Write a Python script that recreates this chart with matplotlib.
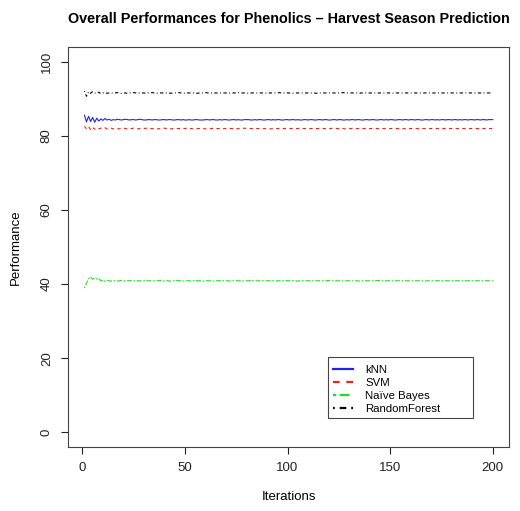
import matplotlib
matplotlib.use('Agg')
import matplotlib.pyplot as plt
from matplotlib.patches import Rectangle

plt.rcParams['font.family'] = ['Liberation Sans', 'DejaVu Sans']

# performance per iteration (1..200) for each classifier
knn = [85.6, 83.8, 85.3, 83.9, 85.0, 83.7, 84.8, 84.0, 84.6, 84.2, 84.7, 84.3, 84.5, 84.2, 84.4, 84.3, 84.5, 84.4, 84.3, 84.4,
       84.5, 84.4, 84.3, 84.4, 84.4, 84.3, 84.4, 84.5, 84.4, 84.3, 84.3, 84.4, 84.4, 84.3, 84.4, 84.4, 84.3, 84.3, 84.4, 84.4,
       84.3, 84.4, 84.4, 84.3, 84.3, 84.4, 84.4, 84.3, 84.4, 84.3, 84.3, 84.4, 84.3, 84.3, 84.4, 84.4, 84.3, 84.3, 84.3, 84.4,
       84.4, 84.3, 84.4, 84.4, 84.3, 84.3, 84.4, 84.3, 84.4, 84.4, 84.3, 84.3, 84.4, 84.4, 84.3, 84.4, 84.3, 84.3, 84.4, 84.4,
       84.4, 84.3, 84.3, 84.4, 84.3, 84.4, 84.4, 84.3, 84.3, 84.4, 84.4, 84.3, 84.4, 84.3, 84.4, 84.4, 84.3, 84.3, 84.4, 84.4,
       84.3, 84.4, 84.4, 84.3, 84.4, 84.3, 84.3, 84.4, 84.4, 84.3, 84.4, 84.4, 84.3, 84.3, 84.4, 84.4, 84.3, 84.4, 84.4, 84.3,
       84.3, 84.4, 84.4, 84.3, 84.4, 84.4, 84.3, 84.3, 84.4, 84.3, 84.4, 84.4, 84.3, 84.4, 84.4, 84.3, 84.3, 84.4, 84.4, 84.3,
       84.4, 84.4, 84.3, 84.3, 84.4, 84.4, 84.3, 84.4, 84.3, 84.4, 84.4, 84.3, 84.3, 84.4, 84.4, 84.3, 84.4, 84.4, 84.3, 84.4,
       84.4, 84.3, 84.4, 84.4, 84.3, 84.3, 84.4, 84.4, 84.3, 84.4, 84.4, 84.3, 84.4, 84.3, 84.4, 84.4, 84.3, 84.4, 84.4, 84.3,
       84.4, 84.4, 84.3, 84.4, 84.3, 84.4, 84.4, 84.3, 84.4, 84.4, 84.3, 84.4, 84.4, 84.3, 84.4, 84.4, 84.3, 84.4, 84.4, 84.4]

svm = [82.6, 81.9, 82.5, 81.7, 82.3, 81.8, 82.2, 81.9, 82.1, 82.0, 82.2, 81.9, 82.0, 82.1, 81.9, 82.0, 82.0, 81.9, 82.0, 82.1,
       82.0, 81.9, 82.0, 82.0, 82.1, 82.0, 81.9, 82.0, 82.0, 82.0, 82.1, 82.0, 81.9, 82.0, 82.0, 82.0, 81.9, 82.0, 82.0, 82.1,
       82.0, 82.0, 81.9, 82.0, 82.0, 82.0, 82.0, 81.9, 82.0, 82.0, 82.1, 82.0, 82.0, 81.9, 82.0, 82.0, 82.0, 82.0, 82.0, 81.9,
       82.0, 82.0, 82.0, 82.1, 82.0, 82.0, 82.0, 81.9, 82.0, 82.0, 82.0, 82.0, 82.0, 82.0, 81.9, 82.0, 82.0, 82.0, 82.1, 82.0,
       82.0, 82.0, 82.0, 81.9, 82.0, 82.0, 82.0, 82.0, 82.0, 82.0, 82.0, 81.9, 82.0, 82.0, 82.0, 82.0, 82.1, 82.0, 82.0, 82.0,
       82.0, 82.0, 81.9, 82.0, 82.0, 82.0, 82.0, 82.0, 82.0, 82.0, 82.0, 82.0, 81.9, 82.0, 82.0, 82.0, 82.0, 82.0, 82.0, 82.0,
       82.0, 82.1, 82.0, 82.0, 82.0, 82.0, 82.0, 81.9, 82.0, 82.0, 82.0, 82.0, 82.0, 82.0, 82.0, 82.0, 82.0, 82.0, 81.9, 82.0,
       82.0, 82.0, 82.0, 82.0, 82.0, 82.0, 82.0, 82.0, 82.0, 82.0, 82.0, 82.0, 82.0, 82.0, 82.0, 81.9, 82.0, 82.0, 82.0, 82.0,
       82.0, 82.0, 82.0, 82.0, 82.0, 82.0, 82.0, 82.0, 82.0, 82.0, 82.0, 82.0, 82.0, 82.0, 82.0, 82.0, 82.0, 82.0, 82.0, 82.0,
       82.0, 82.0, 82.0, 82.0, 82.0, 82.0, 82.0, 82.0, 82.0, 82.0, 82.0, 82.0, 82.0, 82.0, 82.0, 82.0, 82.0, 82.0, 82.0, 82.0]

naive_bayes = [38.9, 40.3, 41.4, 42.0, 41.3, 41.7, 41.4, 41.5, 40.9, 41.1, 40.8, 41.0, 40.9, 40.8, 41.0, 40.9, 40.8, 40.9, 41.0, 40.9,
               40.8, 40.9, 40.9, 41.0, 40.9, 40.8, 40.9, 40.9, 40.8, 40.9, 41.0, 40.9, 40.9, 40.8, 40.9, 40.9, 40.9, 41.0, 40.9, 40.8,
               40.9, 40.9, 40.8, 40.9, 40.9, 41.0, 40.9, 40.9, 40.8, 40.9, 40.9, 40.9, 40.8, 40.9, 41.0, 40.9, 40.9, 40.9, 40.8, 40.9,
               40.9, 40.9, 40.9, 40.8, 40.9, 40.9, 40.9, 41.0, 40.9, 40.9, 40.9, 40.8, 40.9, 40.9, 40.9, 40.9, 40.9, 40.8, 40.9, 40.9,
               40.9, 41.0, 40.9, 40.9, 40.9, 40.9, 40.8, 40.9, 40.9, 40.9, 40.9, 40.9, 40.9, 40.8, 40.9, 40.9, 40.9, 40.9, 41.0, 40.9,
               40.9, 40.9, 40.9, 40.9, 40.8, 40.9, 40.9, 40.9, 40.9, 40.9, 40.9, 40.9, 40.8, 40.9, 40.9, 40.9, 40.9, 40.9, 40.9, 41.0,
               40.9, 40.9, 40.9, 40.9, 40.9, 40.8, 40.9, 40.9, 40.9, 40.9, 40.9, 40.9, 40.9, 40.9, 40.8, 40.9, 40.9, 40.9, 40.9, 40.9,
               40.9, 40.9, 40.9, 41.0, 40.9, 40.9, 40.9, 40.9, 40.9, 40.9, 40.9, 40.8, 40.9, 40.9, 40.9, 40.9, 40.9, 40.9, 40.9, 40.9,
               40.9, 40.9, 40.9, 40.9, 40.9, 40.9, 40.8, 40.9, 40.9, 40.9, 40.9, 40.9, 40.9, 40.9, 40.9, 40.9, 40.9, 40.9, 40.9, 40.9,
               40.9, 40.9, 40.9, 40.9, 40.9, 40.9, 40.9, 40.9, 40.9, 40.9, 40.9, 40.9, 40.9, 40.9, 40.9, 40.9, 40.9, 40.9, 40.9, 40.9]

random_forest = [92.1, 90.7, 91.9, 91.5, 92.0, 91.6, 91.5, 91.8, 91.4, 91.6, 91.7, 91.5, 91.6, 91.6, 91.5, 91.6, 91.7, 91.6, 91.5, 91.6,
                 91.6, 91.5, 91.6, 91.6, 91.7, 91.6, 91.5, 91.6, 91.6, 91.6, 91.5, 91.6, 91.6, 91.7, 91.6, 91.6, 91.5, 91.6, 91.6, 91.6,
                 91.6, 91.6, 91.5, 91.6, 91.6, 91.6, 91.7, 91.6, 91.6, 91.5, 91.6, 91.6, 91.6, 91.6, 91.6, 91.5, 91.6, 91.6, 91.6, 91.7,
                 91.6, 91.6, 91.6, 91.5, 91.6, 91.6, 91.6, 91.6, 91.6, 91.6, 91.5, 91.6, 91.6, 91.6, 91.6, 91.7, 91.6, 91.6, 91.6, 91.6,
                 91.5, 91.6, 91.6, 91.6, 91.6, 91.6, 91.6, 91.6, 91.5, 91.6, 91.6, 91.6, 91.6, 91.6, 91.6, 91.7, 91.6, 91.6, 91.6, 91.6,
                 91.6, 91.6, 91.5, 91.6, 91.6, 91.6, 91.6, 91.6, 91.6, 91.6, 91.6, 91.6, 91.6, 91.5, 91.6, 91.6, 91.6, 91.6, 91.6, 91.6,
                 91.6, 91.6, 91.6, 91.6, 91.6, 91.6, 91.7, 91.6, 91.6, 91.6, 91.6, 91.6, 91.6, 91.6, 91.5, 91.6, 91.6, 91.6, 91.6, 91.6,
                 91.6, 91.6, 91.6, 91.6, 91.6, 91.6, 91.6, 91.6, 91.6, 91.6, 91.6, 91.5, 91.6, 91.6, 91.6, 91.6, 91.6, 91.6, 91.6, 91.6,
                 91.6, 91.6, 91.6, 91.6, 91.6, 91.6, 91.6, 91.6, 91.6, 91.6, 91.6, 91.6, 91.6, 91.6, 91.6, 91.6, 91.6, 91.6, 91.6, 91.6,
                 91.6, 91.6, 91.6, 91.6, 91.6, 91.6, 91.6, 91.6, 91.6, 91.6, 91.6, 91.6, 91.6, 91.6, 91.6, 91.6, 91.6, 91.6, 91.6, 91.6]

iterations = list(range(1, len(knn) + 1))
x_ticks = [0, 50, 100, 150, 200]
y_ticks = [0, 20, 40, 60, 80, 100]

fig = plt.figure(figsize=(5.2, 5.11), dpi=100)
ax = fig.add_axes([0.131, 0.125, 0.848, 0.783])

lw = 0.8
ax.plot(iterations, knn, color='#2222ee', lw=lw, label='kNN')
ax.plot(iterations, svm, color='#ee2222', lw=lw, dashes=(3, 3), label='SVM')
ax.plot(iterations, naive_bayes, color='#22dd22', lw=lw, dashes=(1.5, 1.5, 4.5, 1.5), label='Naïve Bayes')
ax.plot(iterations, random_forest, color='black', lw=lw, dashes=(0.8, 2.2, 3, 2.2), label='RandomForest')

# R-like axis ranges (4% padding)
ax.set_xlim(1 - 0.04 * 199, 200 + 0.04 * 199)
ax.set_ylim(-4, 104)
ax.set_xticks(x_ticks)
ax.set_yticks(y_ticks)
ax.set_yticklabels([str(v) for v in y_ticks], rotation=90, va='center')
ax.tick_params(direction='out', length=5, width=0.8, labelsize=9.5, colors='#222222', pad=6)
for s in ax.spines.values():
    s.set_linewidth(0.8)
    s.set_color('#444444')

ax.set_xlabel('Iterations', fontsize=9.5, labelpad=12)
ax.set_ylabel('Performance', fontsize=9.5, labelpad=14)
ax.set_title('Overall Performances for Phenolics \u2013 Harvest Season Prediction',
             fontsize=10.4, fontweight='bold', pad=17)

# legend entries without frame, R-style box drawn separately (wider on the right)
leg = ax.legend(loc='upper left', bbox_to_anchor=(0.577, 0.232), fontsize=8.2,
                frameon=False, handlelength=1.75, labelspacing=0.27,
                borderpad=0.45, handletextpad=1.05)
for line in leg.get_lines():
    line.set_linewidth(1.6)
ax.add_patch(Rectangle((0.590, 0.0725), 0.328, 0.1525, transform=ax.transAxes,
                       fill=False, edgecolor='#444444', lw=0.8, zorder=5))

fig.savefig('out.png', dpi=100)
